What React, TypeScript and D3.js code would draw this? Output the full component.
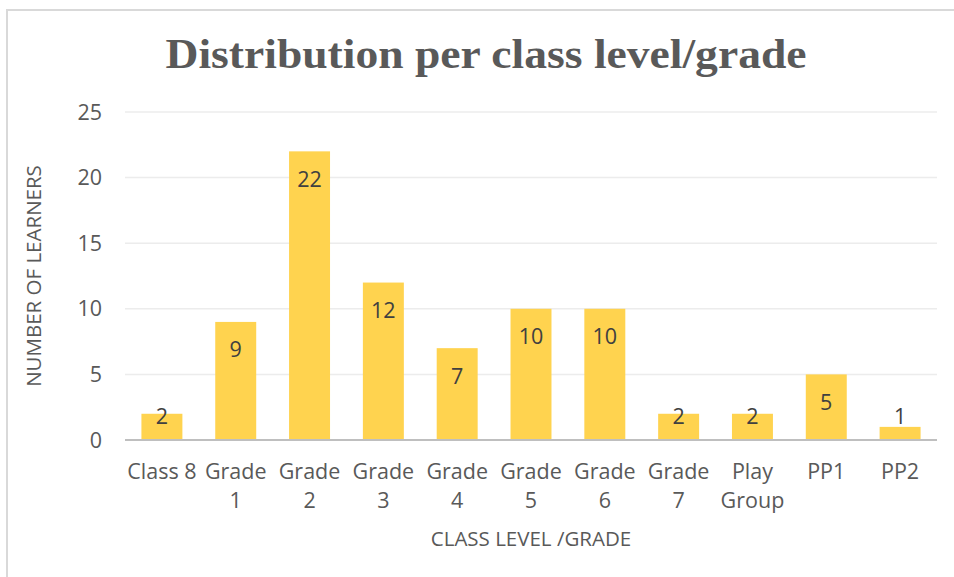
import React from 'react';
import * as d3 from 'd3';

const categories = ['Class 8', 'Grade 1', 'Grade 2', 'Grade 3', 'Grade 4', 'Grade 5', 'Grade 6', 'Grade 7', 'Play Group', 'PP1', 'PP2'];
const learners = [2, 9, 22, 12, 7, 10, 10, 2, 2, 5, 1];
const yTicks = [0, 5, 10, 15, 20, 25];

const W = 954;
const H = 577;
const left = 125;
const right = 937;
const top = 112;
const bottom = 440;
const font = '"Open Sans", "Noto Sans", sans-serif';

// x tick labels wrap like Excel does
const wrapLabel = (s: string) => (s === 'Class 8' ? [s] : s.split(' '));

export default function App() {
  const x = d3.scaleBand().domain(categories).range([left, right]).paddingInner(0.445).paddingOuter(0.2225);
  const y = d3.scaleLinear().domain([0, 25]).range([bottom, top]);

  return (
    <svg width={W} height={H} style={{ position: 'absolute', left: 0, top: 0 }}>
      <rect x={0} y={0} width={W} height={H} fill="#fff" />
      <rect x={7} y={10} width={W + 10} height={H + 10} fill="none" stroke="#d9d9d9" strokeWidth={2} />
      <text x={486} y={68} textAnchor="middle" fontFamily='"Liberation Serif", "Times New Roman", serif' fontWeight="bold" fontSize={42} fill="#595959" textLength={641} lengthAdjust="spacingAndGlyphs">
        Distribution per class level/grade
      </text>
      {yTicks.map(t => (
        <g key={t}>
          {t > 0 && <line x1={left} x2={right} y1={y(t)} y2={y(t)} stroke="#ececec" strokeWidth={1.5} />}
          <text x={102} y={y(t) + 7.5} textAnchor="end" fontFamily={font} fontSize={21.5} fill="#595959">{t}</text>
        </g>
      ))}
      {categories.map((c, i) => {
        const v = learners[i];
        const bx = x(c)!;
        const yt = y(v);
        const ly = Math.min(yt + 28, bottom - 24);
        return (
          <g key={c}>
            <rect x={bx} y={yt} width={x.bandwidth()} height={bottom - yt} fill="#ffd34f" />
            <text x={bx + x.bandwidth() / 2} y={ly + 7.5} textAnchor="middle" fontFamily={font} fontSize={21.5} fill="#404040">{v}</text>
            {wrapLabel(c).map((ln, j) => (
              <text key={j} x={bx + x.bandwidth() / 2} y={479 + j * 29} textAnchor="middle" fontFamily={font} fontSize={21.5} fill="#595959">{ln}</text>
            ))}
          </g>
        );
      })}
      <line x1={left} x2={right} y1={bottom} y2={bottom} stroke="#bfbfbf" strokeWidth={2} />
      <text x={531} y={546} textAnchor="middle" fontFamily={font} fontSize={20.5} fill="#595959">CLASS LEVEL /GRADE</text>
      <text transform={`translate(41,276) rotate(-90)`} textAnchor="middle" fontFamily={font} fontSize={20.5} fill="#595959">NUMBER OF LEARNERS</text>
    </svg>
  );
}
